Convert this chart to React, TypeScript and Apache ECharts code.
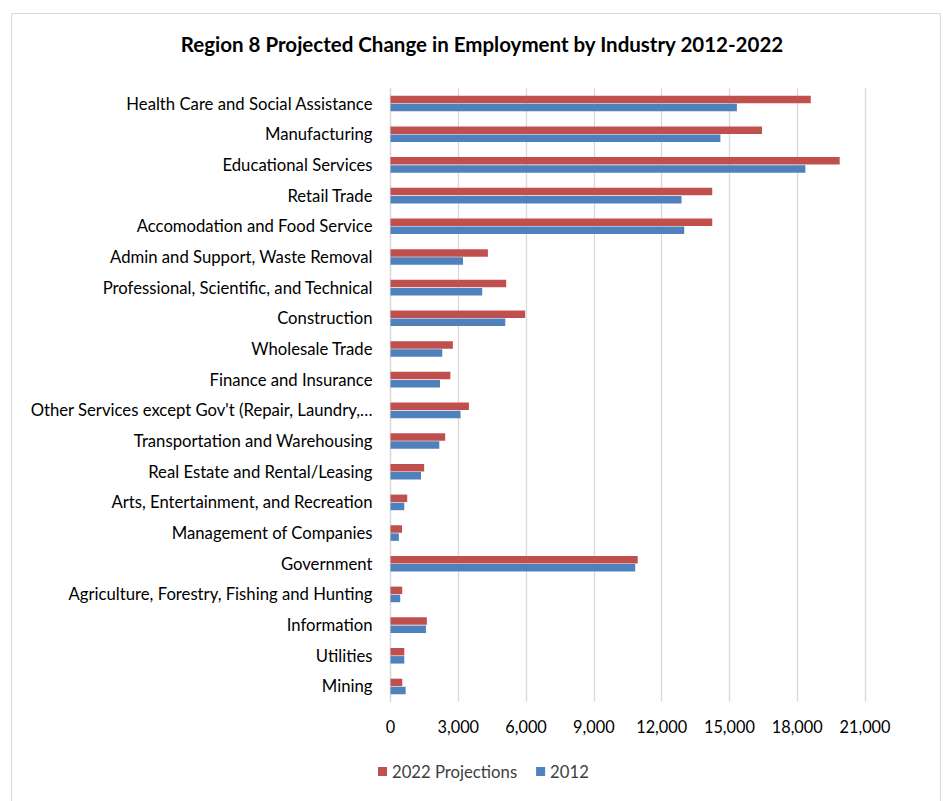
import React, { useEffect, useRef } from "react";
import * as echarts from "echarts";

const categories = [
  "Health Care and Social Assistance",
  "Manufacturing",
  "Educational Services",
  "Retail Trade",
  "Accomodation and Food Service",
  "Admin and Support, Waste Removal",
  "Professional, Scientific, and Technical",
  "Construction",
  "Wholesale Trade",
  "Finance and Insurance",
  "Other Services except Gov't (Repair, Laundry,…",
  "Transportation and Warehousing",
  "Real Estate and Rental/Leasing",
  "Arts, Entertainment, and Recreation",
  "Management of Companies",
  "Government",
  "Agriculture, Forestry, Fishing and Hunting",
  "Information",
  "Utilities",
  "Mining",
];

const projections2022 = [
  18600, 16440, 19880, 14240, 14240, 4310, 5120, 5960, 2760, 2650,
  3470, 2420, 1490, 740, 510, 10940, 520, 1610, 610, 520,
];

const values2012 = [
  15330, 14600, 18360, 12880, 13000, 3210, 4060, 5080, 2290, 2190,
  3100, 2160, 1350, 610, 370, 10830, 430, 1570, 610, 670,
];

const xTicks = { min: 0, max: 21000, interval: 3000 };

const FONT = "Lato, 'Open Sans', sans-serif";

export default function App() {
  const ref = useRef<HTMLDivElement>(null);

  useEffect(() => {
    if (!ref.current) return;
    const chart = echarts.init(ref.current, undefined, { renderer: "svg" });
    chart.setOption({
      animation: false,
      backgroundColor: "#ffffff",
      textStyle: { fontFamily: FONT },
      graphic: [
        {
          type: "rect",
          shape: { x: 11.5, y: 13.5, width: 929, height: 800 },
          style: { fill: "none", stroke: "#d9d9d9", lineWidth: 1 },
          silent: true,
        },
      ],
      title: {
        text: "Region 8 Projected Change in Employment by Industry 2012-2022",
        left: 477,
        textAlign: "center",
        top: 28,
        textStyle: {
          fontFamily: FONT,
          fontSize: 20.5,
          fontWeight: "bold",
          color: "#000000",
        },
      },
      legend: {
        bottom: 16,
        left: 373,
        itemWidth: 9,
        itemHeight: 9,
        itemGap: 19,
        icon: "rect",
        textStyle: { fontFamily: FONT, fontSize: 16.7, color: "#404040" },
        data: ["2022 Projections", "2012"],
      },
      grid: {
        left: 390.5,
        right: 78,
        top: 88.2,
        bottom: 99.2,
        containLabel: false,
      },
      xAxis: {
        type: "value",
        min: xTicks.min,
        max: xTicks.max,
        interval: xTicks.interval,
        axisLine: { show: false },
        axisTick: { show: false },
        splitLine: { show: true, lineStyle: { color: "#d9d9d9", width: 1.3 } },
        axisLabel: {
          fontFamily: FONT,
          fontSize: 16.3,
          color: "#000000",
          margin: 17,
          formatter: (v: number) => v.toLocaleString("en-US"),
        },
      },
      yAxis: {
        type: "category",
        inverse: true,
        data: categories,
        axisLine: { show: true, lineStyle: { color: "#d9d9d9", width: 1.3 } },
        axisTick: { show: false },
        axisLabel: {
          fontFamily: FONT,
          fontSize: 16.7,
          color: "#000000",
          margin: 18,
        },
      },
      series: [
        {
          name: "2022 Projections",
          type: "bar",
          data: projections2022,
          barWidth: 7.5,
          barGap: "8%",
          itemStyle: { color: "#C0504D" },
        },
        {
          name: "2012",
          type: "bar",
          data: values2012,
          barWidth: 7.5,
          itemStyle: { color: "#4F81BD" },
        },
      ],
    });
    return () => chart.dispose();
  }, []);

  return (
    <div
      ref={ref}
      style={{ position: "fixed", left: 0, top: 0, width: 943, height: 801 }}
    />
  );
}
